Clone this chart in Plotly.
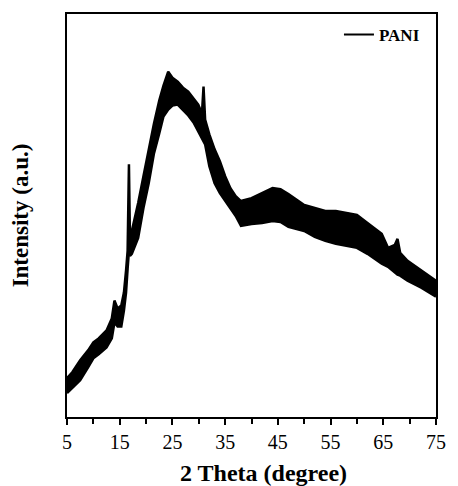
import plotly.graph_objects as go

# 2-theta positions (degree)
two_theta = [5.0, 6.0, 7.5, 9.0, 10.0, 11.0, 12.5, 13.5, 14.0, 14.6, 15.3, 15.8, 16.2, 16.5,
             16.75, 16.95, 17.3, 18.5, 19.5, 20.5, 21.5, 22.5, 23.3, 24.2, 25.0, 26.0, 27.0,
             28.0, 29.0, 29.9, 30.6, 30.9, 31.2, 32.0, 33.0, 34.0, 35.0, 36.0, 37.0, 38.0,
             40.0, 42.0, 44.0, 45.5, 47.0, 50.0, 52.0, 54.0, 56.0, 58.0, 60.0, 62.0, 64.7,
             65.9, 67.2, 67.7, 68.2, 69.6, 72.2, 74.2, 75.0]

# upper and lower edge of the (noisy) PANI trace, arbitrary units
pani_upper = [39, 45, 57, 67, 75, 79, 87, 99, 117, 109, 112, 125, 147, 167,
              254, 177, 187, 215, 242, 270, 295, 318, 333, 347, 341, 337, 331,
              327, 320, 314, 305, 332, 299, 284, 269, 257, 242, 230, 222, 217,
              220, 225, 230, 229, 224, 213, 210, 207, 207, 205, 203, 195, 184,
              170, 173, 179, 165, 157, 147, 140, 137]
pani_lower = [24, 29, 37, 50, 59, 63, 70, 79, 95, 91, 91, 107, 125, 149,
              167, 162, 164, 180, 210, 235, 265, 285, 302, 309, 313, 314, 309,
              303, 296, 287, 280, 277, 274, 252, 235, 225, 217, 210, 202, 192,
              194, 195, 197, 196, 191, 187, 181, 177, 174, 172, 170, 164, 154,
              151, 145, 143, 142, 137, 130, 124, 121]

x_ticks = [5, 15, 25, 35, 45, 55, 65, 75]
series_name = "PANI"

fig = go.Figure()
fig.add_trace(go.Scatter(x=two_theta, y=pani_lower, mode="lines",
                         line=dict(color="black", width=2.5), showlegend=False,
                         hoverinfo="skip"))
fig.add_trace(go.Scatter(x=two_theta, y=pani_upper, mode="lines", fill="tonexty",
                         fillcolor="black", line=dict(color="black", width=2.5),
                         showlegend=False, name=series_name))
fig.add_trace(go.Scatter(x=[None], y=[None], mode="lines", name=series_name,
                         line=dict(color="black", width=2)))

fig.update_layout(
    width=458, height=486,
    margin=dict(l=67, r=16, t=12, b=69),
    paper_bgcolor="white", plot_bgcolor="white",
    font=dict(family="Liberation Serif, Times New Roman, serif", color="black"),
    showlegend=True,
    legend=dict(x=0.737, y=0.948, xanchor="left", yanchor="middle",
                bgcolor="rgba(0,0,0,0)",
                font=dict(size=17, family="Liberation Serif", weight="bold")),
    xaxis=dict(range=[5, 75], tickvals=x_ticks, ticktext=[str(v) for v in x_ticks],
               ticks="outside", ticklen=6, tickwidth=2, tickcolor="black",
               showline=True, linewidth=2, linecolor="black", mirror=True,
               showgrid=False, zeroline=False,
               tickfont=dict(size=20, family="Liberation Serif"),
               minor=dict(dtick=5, tick0=5, ticks="outside", ticklen=5,
                          tickwidth=2, tickcolor="black", showgrid=False)),
    yaxis=dict(range=[0, 405], showticklabels=False, ticks="",
               showline=True, linewidth=2, linecolor="black", mirror=True,
               showgrid=False, zeroline=False,
               title=dict(text="Intensity (a.u.)", standoff=30,
                          font=dict(size=23, family="Liberation Serif", weight="bold"))),
)
fig.add_annotation(text="2 Theta (degree)", x=0.533, y=-0.138, xref="paper", yref="paper",
                   xanchor="center", yanchor="middle", showarrow=False,
                   font=dict(size=24, family="Liberation Serif", weight="bold"))

fig.write_html("out.html")
